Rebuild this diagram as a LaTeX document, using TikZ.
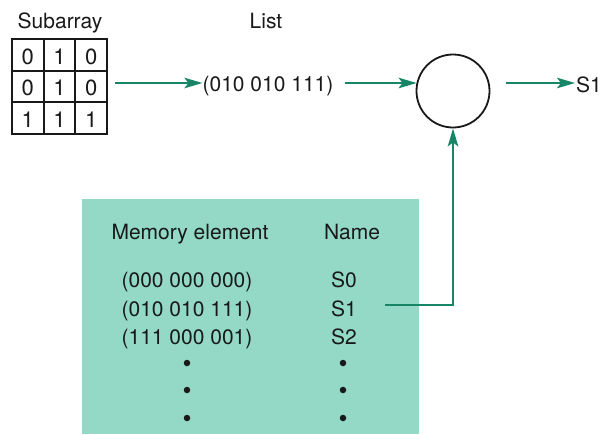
\documentclass[tikz,border=0pt]{standalone}
\usepackage{fontspec}
\setmainfont{TeX Gyre Heros}
\usetikzlibrary{arrows.meta,calc}
\definecolor{boxfill}{RGB}{147,217,197}
\definecolor{arrgreen}{RGB}{22,134,102}
\definecolor{ink}{RGB}{25,25,25}
\begin{document}
\begin{tikzpicture}[x=1pt,y=-1pt,
  txt/.style={font=\fontsize{21}{25}\selectfont,text=ink,inner sep=0pt,anchor=base},
  digit/.style={font=\fontsize{22}{26}\selectfont,text=ink,inner sep=0pt,anchor=base},
  cell/.style={draw=ink,line width=1.8pt,minimum width=31.7pt,minimum height=31.7pt,inner sep=0pt},
  arr/.style={draw=arrgreen,line width=2pt,-{Stealth[length=18pt,width=10.5pt,inset=4pt]}},
  dotmark/.style={circle,fill=ink,inner sep=0pt,minimum size=6.5pt}]
\useasboundingbox (0,0) rectangle (602,434);
\fill[boxfill] (82,199) rectangle (419,434);
% subarray
\node[txt] (subl) at (60,28) {Subarray};
\foreach \r/\y in {1/55,2/86.5,3/118}{
  \foreach \c/\x in {1/27.8,2/59.5,3/91.2}{
    \node[cell] (c\r\c) at (\x,\y) {};
  }
}
\node[digit] at ($(c11)+(0,9)$) {0};
\node[digit] at ($(c12)+(0,9)$) {1};
\node[digit] at ($(c13)+(0,9)$) {0};
\node[digit] at ($(c21)+(0,9)$) {0};
\node[digit] at ($(c22)+(0,9)$) {1};
\node[digit] at ($(c23)+(0,9)$) {0};
\node[digit] at ($(c31)+(0,9)$) {1};
\node[digit] at ($(c32)+(0,9)$) {1};
\node[digit] at ($(c33)+(0,9)$) {1};
% list
\node[txt] (listl) at (266,28) {List};
\node[txt] (list) at (268,91) {(010 010 111)};
% comparator
\node[circle,draw=ink,line width=1.8pt,minimum size=73pt,inner sep=0pt] (cmp) at (453,91) {};
\node[txt,anchor=base west] (sout) at (576,92) {S1};
\coordinate (lvl) at (0,83);
\draw[arr] (115,83) -- (list.west |- lvl);
\draw[arr] ([xshift=11pt]list.east |- lvl) -- ([xshift=1pt]cmp.west |- lvl);
\draw[arr] ([xshift=-70pt]sout.west |- lvl) -- ([xshift=-1pt]sout.west |- lvl);
% table
\node[txt] (hmem) at (190,239) {Memory element};
\node[txt] (hname) at (352,239) {Name};
\node[txt] (m0) at (187,287) {(000 000 000)};
\node[txt] (m1) at (187,316) {(010 010 111)};
\node[txt] (m2) at (187,344) {(111 000 001)};
\node[txt] (n0) at (344,287) {S0};
\node[txt] (n1) at (344,316) {S1};
\node[txt] (n2) at (344,344) {S2};
\foreach \y [count=\i] in {363,390,418}{
  \node[dotmark] (dl\i) at (187,\y) {};
  \node[dotmark] (dr\i) at (343,\y) {};
}
\coordinate (tap) at (385,305);
\draw[arr] (tap) -| (cmp.south);
\end{tikzpicture}
\end{document}
